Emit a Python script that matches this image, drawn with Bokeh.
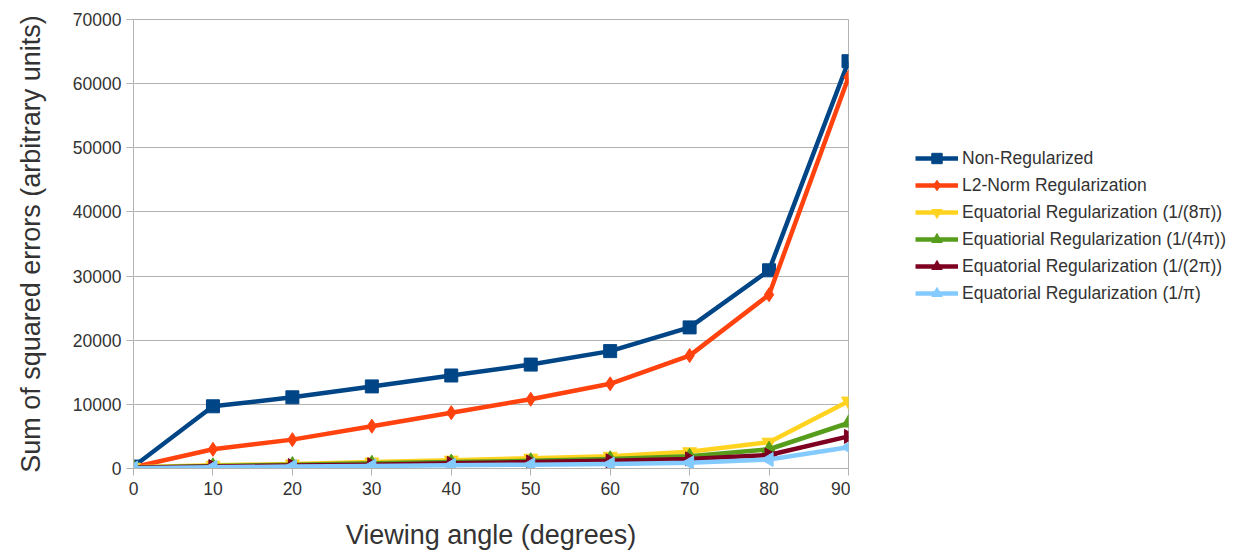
from bokeh.plotting import figure
from bokeh.models import FixedTicker, Legend, LegendItem, Range1d
from bokeh.layouts import row
from bokeh.embed import file_html
from bokeh.resources import INLINE
import math

# Viewing angles (degrees)
angles = [0, 10, 20, 30, 40, 50, 60, 70, 80, 90]

# Sum of squared errors per method
non_regularized = [300, 9700, 11100, 12800, 14500, 16200, 18300, 22000, 30900, 63500]
l2_norm = [200, 3000, 4500, 6600, 8700, 10800, 13200, 17600, 27100, 61000]
eq_8pi = [200, 500, 700, 1000, 1300, 1600, 1900, 2600, 4100, 10500]
eq_4pi = [150, 400, 600, 800, 1000, 1200, 1500, 1900, 3000, 7100]
eq_2pi = [100, 300, 450, 600, 800, 1000, 1200, 1500, 2100, 5000]
eq_pi = [50, 200, 300, 400, 500, 600, 700, 900, 1400, 3300]

series_names = [
    "Non-Regularized",
    "L2-Norm Regularization",
    "Equatorial Regularization (1/(8π))",
    "Equatiorial Regularization (1/(4π))",
    "Equatorial Regularization (1/(2π))",
    "Equatorial Regularization (1/π)",
]
series_values = [non_regularized, l2_norm, eq_8pi, eq_4pi, eq_2pi, eq_pi]
colors = ["#004586", "#ff420e", "#ffd320", "#579d1c", "#7e0021", "#83caff"]
markers = ["square", "diamond", "inverted_triangle", "triangle", "triangle", "triangle"]
marker_angles = [0, 0, 0, 0, -math.pi / 2, math.pi / 2]
marker_sizes = [13, 14, 14, 14, 14, 14]

y_ticks = [0, 10000, 20000, 30000, 40000, 50000, 60000, 70000]
x_ticks = angles

FONT = "Liberation Sans"
TEXT = "#333333"
GRID = "#b3b3b3"
LINE_W = 4.5


def add_series(fig):
    """Draw every series on fig; return (line, marker) renderer pairs."""
    pairs = []
    for vals, col, mk, ang, sz in zip(series_values, colors, markers,
                                      marker_angles, marker_sizes):
        ln = fig.line(angles, vals, line_color=col, line_width=LINE_W,
                      line_join="round")
        sc = fig.scatter(angles, vals, marker=mk, angle=ang, size=sz,
                         fill_color=col, line_color=col)
        pairs.append((ln, sc))
    return pairs


# --- main chart -------------------------------------------------------------
p = figure(
    width=850, height=553,
    output_backend="svg", toolbar_location=None,
    x_range=Range1d(0, 90), y_range=Range1d(0, 70000),
    min_border_left=133, min_border_right=2,
    min_border_top=19, min_border_bottom=85,
)
p.background_fill_color = "white"
p.border_fill_color = "white"
p.outline_line_color = GRID
p.outline_line_width = 1

p.xgrid.visible = False
p.ygrid.grid_line_color = GRID
p.ygrid.grid_line_width = 1
p.ygrid.ticker = FixedTicker(ticks=y_ticks)

for ax, ticks in ((p.xaxis[0], x_ticks), (p.yaxis[0], y_ticks)):
    ax.ticker = FixedTicker(ticks=ticks)
    ax.axis_line_color = GRID
    ax.major_tick_line_color = GRID
    ax.major_tick_out = 7
    ax.major_tick_in = 0
    ax.minor_tick_line_color = None
    ax.major_label_text_font = FONT
    ax.major_label_text_font_size = "17.5px"
    ax.major_label_text_color = TEXT
    ax.axis_label_text_font = FONT
    ax.axis_label_text_font_size = "27px"
    ax.axis_label_text_font_style = "normal"
    ax.axis_label_text_color = TEXT

p.xaxis.axis_label = "Viewing angle (degrees)"
p.xaxis.axis_label_standoff = 22
p.xaxis.major_label_standoff = 6
p.yaxis.axis_label = "Sum of squared errors (arbitrary units)"
p.yaxis.axis_label_standoff = 24
p.yaxis.major_label_standoff = 5

add_series(p)

# --- legend panel: same series, viewed outside their extent -------------------
key = figure(
    width=388, height=553,
    output_backend="svg", toolbar_location=None,
    x_range=Range1d(-2, -1), y_range=Range1d(0, 1),
    min_border=0,
)
key.axis.visible = False
key.grid.visible = False
key.outline_line_color = None
key.background_fill_color = "white"
key.border_fill_color = "white"

items = [LegendItem(label=name, renderers=[ln, sc])
         for name, (ln, sc) in zip(series_names, add_series(key))]

legend = Legend(
    items=items,
    location=(65, 162),
    glyph_width=43, glyph_height=26,
    label_height=26, spacing=1,
    label_text_font=FONT, label_text_font_size="17.5px",
    label_text_color=TEXT, label_standoff=4,
    padding=0, margin=0,
    border_line_color=None, background_fill_alpha=0,
)
key.add_layout(legend, "center")

open("out.html", "w").write(file_html(row(p, key, spacing=0), INLINE))
